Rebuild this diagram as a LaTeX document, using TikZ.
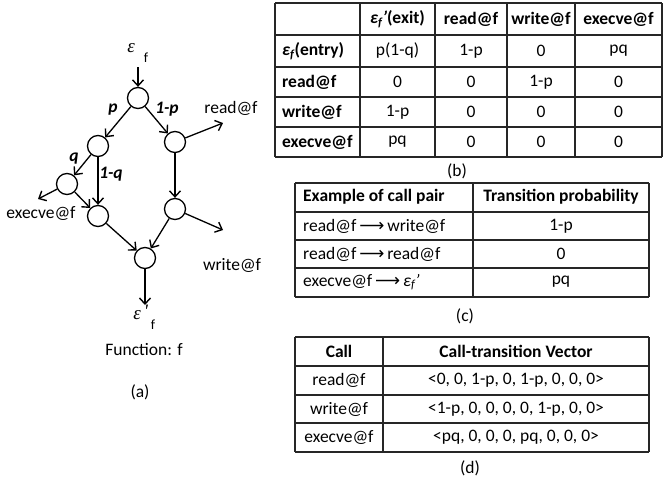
\documentclass[tikz,border=0pt]{standalone}
\usepackage{fontspec}
\setmainfont{Carlito}
\newfontfamily\dv{DejaVu Sans}
\newfontfamily\lser{Liberation Serif}
\usetikzlibrary{arrows.meta}
\begin{document}
\begin{tikzpicture}[x=1pt,y=-1pt,
  every node/.style={font=\fontsize{17.5}{20}\selectfont, inner sep=0pt},
  st/.style={circle, draw, line width=1.3pt, minimum size=21pt, inner sep=0pt},
  edge/.style={line width=1.3pt, -{Straight Barb[length=6pt,width=11pt,line width=1.4pt]}},
  grid/.style={line width=1.2pt, draw=black!85},
  lab/.style={font=\fontsize{17.5}{20}\selectfont\bfseries\itshape},
  lt/.style={anchor=west},
  eps/.style={font=\fontsize{19}{20}\selectfont\lser\itshape},
]
\useasboundingbox (0,0) rectangle (664,482);

% ---------- (a) graph ----------
\node[eps] (eps) at (131,48) {ε};
\node (epsf) at (146,58) {\fontsize{14}{16}\selectfont f};
\coordinate (in) at (138,67);
\node[st] (n0) at (138,98) {};
\node[st] (n1) at (98,146) {};
\node[st] (n2) at (175,142) {};
\node[st] (n3) at (67,184) {};
\node[st] (n4) at (98,216) {};
\node[st] (n5) at (175,209) {};
\node[st] (n6) at (145,258) {};
\coordinate (rd) at (223,123);
\coordinate (ex) at (38,199);
\coordinate (wr) at (223,230);
\coordinate (out) at (145,305);
\node (rdl) at (231,108) {read@f};
\node (exl) at (41,213) {execve@f};
\node (wrl) at (232,265) {write@f};
\node[eps] (ep2) at (137,315) {ε};
\node[eps] (ep2p) at (146,311) {'};
\node (ep2f) at (153,325) {\fontsize{14}{16}\selectfont f};
\node (fn) at (144,350) {Function: f};
\node (la) at (140,392) {(a)};

\node[lab] (lp) at (113,110) {p};
\node[lab] (l1p) at (167,109) {1-p};
\node[lab] (lq) at (74,159) {q};
\node[lab] (l1q) at (111,174) {1-q};

\draw[edge] (in) -- (n0);
\draw[edge] (n0) -- (n1);
\draw[edge] (n0) -- (n2);
\draw[edge] (n2) -- (rd);
\draw[edge] (n1) -- (n3);
\draw[edge] (n1) -- (n4);
\draw[edge] (n3) -- (ex);
\draw[edge] (n3) -- (n4);
\draw[edge] (n2) -- (n5);
\draw[edge] (n5) -- (wr);
\draw[edge] (n4) -- (n6);
\draw[edge] (n5) -- (n6);
\draw[edge] (n6) -- (out);

% ---------- (b) table ----------
\foreach \y in {3,35,67,97,127,157} \draw[grid] (275,\y) -- (662,\y);
\foreach \x in {275,360,435,507,575,662} \draw[grid] (\x,3) -- (\x,157);
\node at (397.5,19) {{\bfseries\itshape ε\textsubscript{f}'}\textbf{(exit)}};
\node at (471,19) {\textbf{read@f}};
\node at (541,19) {\textbf{write@f}};
\node at (618.5,19) {\textbf{execve@f}};
\node[lt] at (282,51) {{\bfseries\itshape ε\textsubscript{f}}\textbf{(entry)}};
\node[lt] at (282,82) {\textbf{read@f}};
\node[lt] at (282,112) {\textbf{write@f}};
\node[lt] at (282,142) {\textbf{execve@f}};
\node at (397.5,51) {p(1-q)};
\node at (471,51) {1-p};
\node at (541,51) {0};
\node at (618.5,51) {pq};
\node at (397.5,82) {0};
\node at (471,82) {0};
\node at (541,82) {1-p};
\node at (618.5,82) {0};
\node at (397.5,112) {1-p};
\node at (471,112) {0};
\node at (541,112) {0};
\node at (618.5,112) {0};
\node at (397.5,142) {pq};
\node at (471,142) {0};
\node at (541,142) {0};
\node at (618.5,142) {0};
\node at (457,171) {(b)};

% ---------- (c) table ----------
\foreach \y in {183,212,240,268,297} \draw[grid] (295,\y) -- (649,\y);
\foreach \x in {295,473,649} \draw[grid] (\x,183) -- (\x,297);
\node[lt] at (303,197) {\textbf{Example of call pair}};
\node at (561,197) {\textbf{Transition probability}};
\node[lt] at (303,226) {read@f\,{\dv ⟶}\,write@f};
\node[lt] at (303,254) {read@f\,{\dv ⟶}\,read@f};
\node[lt] at (303,282) {execve@f\,{\dv ⟶}\,{\itshape ε\textsubscript{f}'}};
\node at (561,226) {1-p};
\node at (561,254) {0};
\node at (561,282) {pq};
\node at (465,316) {(c)};

% ---------- (d) table ----------
\foreach \y in {337,366,395,423,452} \draw[grid] (295,\y) -- (649,\y);
\foreach \x in {295,383,649} \draw[grid] (\x,337) -- (\x,452);
\node at (339,351) {\textbf{Call}};
\node at (516,351) {\textbf{Call-transition Vector}};
\node at (339,380) {read@f};
\node at (339,409) {write@f};
\node at (339,437) {execve@f};
\node at (516,380) {<0, 0, 1-p, 0, 1-p, 0, 0, 0>};
\node at (516,409) {<1-p, 0, 0, 0, 0, 1-p, 0, 0>};
\node at (516,437) {<pq, 0, 0, 0, pq, 0, 0, 0>};
\node at (470,468) {(d)};
\end{tikzpicture}
\end{document}
